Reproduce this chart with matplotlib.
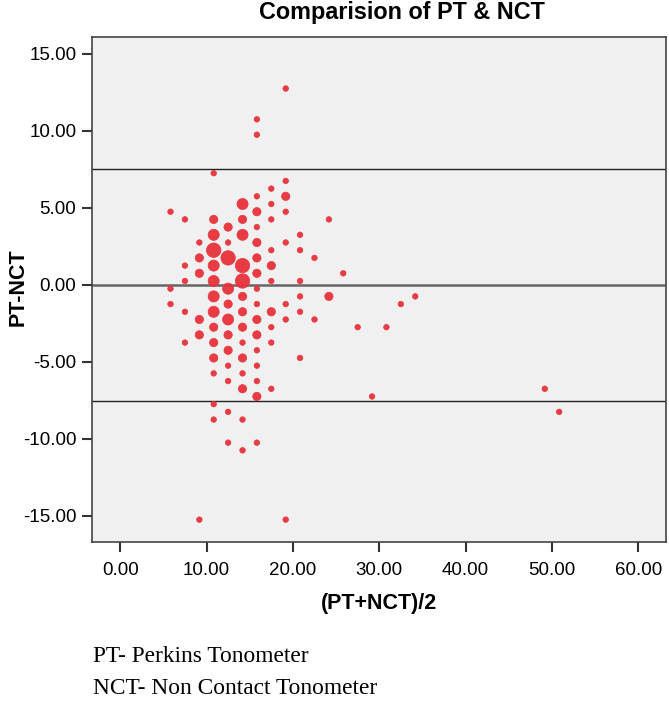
import numpy as np
import matplotlib.pyplot as plt

# ______ data: (mean, difference, number of cases) ______
mean_vals = [10.83, 19.17, 15.83, 15.83, 19.17, 17.5, 15.83, 19.17, 14.17, 17.5,
             5.83, 15.83, 19.17, 7.5, 10.83, 14.17, 17.5, 24.17, 12.5, 15.83,
             10.83, 14.17, 20.83, 9.17, 12.5, 15.83, 19.17, 10.83, 17.5, 20.83,
             9.17, 12.5, 15.83, 22.5, 7.5, 10.83, 14.17, 17.5, 9.17, 15.83,
             25.83, 7.5, 10.83, 14.17, 17.5, 20.83, 5.83, 12.5, 15.83, 10.83,
             14.17, 20.83, 24.17, 5.83, 7.5, 10.83, 9.17, 10.83, 9.17, 7.5,
             10.83, 10.83, 10.83, 14.17, 15.83, 17.5, 10.83, 12.5, 10.83, 14.17,
             12.5, 15.83, 14.17, 9.17, 19.17,
             12.5, 14.17, 15.83, 17.5, 19.17, 20.83, 22.5, 12.5, 15.83, 19.17,
             14.17, 17.5, 12.5, 15.83, 14.17, 17.5, 20.83, 12.5, 15.83, 14.17,
             12.5, 15.83, 14.17, 12.5, 15.83,
             27.5, 30.83, 29.17, 32.5, 34.17, 49.17, 50.83]
diff_vals = [7.25, 12.75, 10.75, 9.75, 6.75, 6.25, 5.75, 5.75, 5.25, 5.25,
             4.75, 4.75, 4.75, 4.25, 4.25, 4.25, 4.25, 4.25, 3.75, 3.75,
             3.25, 3.25, 3.25, 2.75, 2.75, 2.75, 2.75, 2.25, 2.25, 2.25,
             1.75, 1.75, 1.75, 1.75, 1.25, 1.25, 1.25, 1.25, 0.75, 0.75,
             0.75, 0.25, 0.25, 0.25, 0.25, 0.25, -0.25, -0.25, -0.25, -0.75,
             -0.75, -0.75, -0.75, -1.25, -1.75, -1.75, -2.25, -2.75, -3.25, -3.75,
             -3.75, -4.75, -5.75, -6.75, -7.25, -6.75, -7.75, -8.25, -8.75, -8.75,
             -10.25, -10.25, -10.75, -15.25, -15.25,
             -1.25, -1.75, -1.25, -1.75, -1.25, -1.75, -2.25, -2.25, -2.25, -2.25,
             -2.75, -2.75, -3.25, -3.25, -3.75, -3.75, -4.75, -4.25, -4.25, -4.75,
             -5.25, -5.25, -5.75, -6.25, -6.25,
             -2.75, -2.75, -7.25, -1.25, -0.75, -6.75, -8.25]
counts = [1, 1, 1, 1, 1, 1, 1, 2, 3, 1,
          1, 2, 1, 1, 2, 2, 1, 1, 2, 1,
          3, 3, 1, 1, 1, 2, 1, 4, 1, 1,
          2, 4, 2, 1, 1, 3, 4, 2, 2, 2,
          1, 1, 3, 4, 1, 1, 1, 3, 1, 3,
          2, 1, 2, 1, 1, 3, 2, 2, 2, 1,
          2, 2, 1, 2, 2, 1, 1, 1, 1, 1,
          1, 1, 1, 1, 1,
          2, 2, 1, 2, 1, 1, 1, 3, 2, 1,
          2, 1, 2, 2, 1, 1, 1, 2, 1, 2,
          1, 1, 1, 1, 1,
          1, 1, 1, 1, 1, 1, 1]

mean_diff = 0.0
upper_loa = 7.52
lower_loa = -7.52

x_ticks = [0, 10, 20, 30, 40, 50, 60]
y_ticks = [-15, -10, -5, 0, 5, 10, 15]

# ______ plot ______
size_map = {1: 16, 2: 36, 3: 64, 4: 108}
sizes = [size_map[c] for c in counts]

fig = plt.figure(figsize=(6.69, 7.06), dpi=100)
ax = fig.add_axes([0.137, 0.233, 0.8585, 0.714])
ax.set_facecolor('#f0f0f0')

ax.scatter(mean_vals, diff_vals, s=sizes, color='#e8323c', alpha=0.95,
           edgecolors='#e8323c', linewidths=0.5, zorder=3)
ax.axhline(mean_diff, color='#666666', lw=1.8, zorder=2)
ax.axhline(upper_loa, color='#222222', lw=1.0, zorder=2)
ax.axhline(lower_loa, color='#222222', lw=1.0, zorder=2)

ax.set_xlim(-3.3, 63.2)
ax.set_ylim(-16.67, 16.07)
ax.set_xticks(x_ticks)
ax.set_yticks(y_ticks)
ax.set_xticklabels([f'{v:.2f}' for v in x_ticks])
ax.set_yticklabels([f'{v:.2f}' for v in y_ticks])
ax.tick_params(labelsize=13.5, length=7, width=1.5, color='#333333')
ax.tick_params(axis='x', pad=8)
ax.tick_params(axis='y', pad=4)
for s in ax.spines.values():
    s.set_color('#444444')
    s.set_linewidth(1.2)

fnt = 'Liberation Sans'
for lab in ax.get_xticklabels() + ax.get_yticklabels():
    lab.set_family(fnt)

fig.text(402 / 669, 1 - 12 / 706, 'Comparision of PT & NCT', fontsize=16.8,
         fontweight='bold', family=fnt, ha='center', va='center')
ax.set_xlabel('(PT+NCT)/2', fontsize=15.5, fontweight='bold', family=fnt, labelpad=10)
ax.set_ylabel('PT-NCT', fontsize=15.5, fontweight='bold', family=fnt)
ax.yaxis.set_label_coords(-0.11, 0.505)

fig.text(0.139, 1 - 657 / 706, 'PT- Perkins Tonometer', fontsize=16.8,
         family='Liberation Serif', va='center')
fig.text(0.139, 1 - 689 / 706, 'NCT- Non Contact Tonometer', fontsize=16.8,
         family='Liberation Serif', va='center')

plt.savefig('out.png', dpi=100)
